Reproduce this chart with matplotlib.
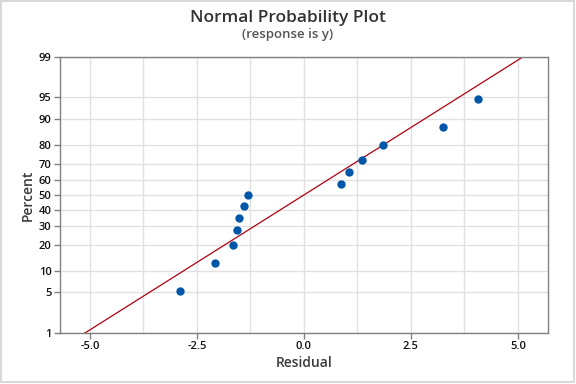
import matplotlib
matplotlib.use("Agg")
import matplotlib.pyplot as plt
from matplotlib.patches import Rectangle
from statistics import NormalDist
import numpy as np

# residuals, sorted
residuals = [-2.90, -2.07, -1.65, -1.56, -1.52, -1.39, -1.31,
             0.87, 1.06, 1.37, 1.84, 3.26, 4.06]
pct_ticks = [1, 5, 10, 20, 30, 40, 50, 60, 70, 80, 90, 95, 99]
x_ticks = [-5.0, -2.5, 0.0, 2.5, 5.0]
x_minor = [-3.75, -1.25, 1.25, 3.75]

nd = NormalDist()
res = np.array(sorted(residuals))
n = len(res)
# median ranks (Minitab style)
probs = (np.arange(1, n + 1) - 0.3) / (n + 0.4)
z_pts = np.array([nd.inv_cdf(p) for p in probs])

mu = res.mean()
sd = res.std(ddof=1)

plt.rcParams['font.family'] = ['Open Sans', 'DejaVu Sans']

fig = plt.figure(figsize=(5.76, 3.84), dpi=100)
ax = fig.add_axes([0.104, 0.133, 0.847, 0.719])

# fitted line
xl = np.array([-5.7, 5.7])
ax.plot(xl, (xl - mu) / sd, color='#b00012', lw=0.9, zorder=2)
ax.plot(res, z_pts, 'o', color='#0057a8', ms=5.0, zorder=3)

ax.set_xlim(-5.7, 5.7)
ax.set_ylim(nd.inv_cdf(0.01), nd.inv_cdf(0.99))
ax.set_yticks([nd.inv_cdf(p / 100) for p in pct_ticks])
ax.set_yticklabels([str(p) for p in pct_ticks])
ax.set_xticks(x_ticks)
ax.set_xticklabels([f'{v:.1f}' for v in x_ticks])
ax.set_xticks(x_minor, minor=True)

ax.grid(True, which='both', color='#e1e1e1', lw=1.0, zorder=0)
ax.set_axisbelow(True)
ax.tick_params(axis='both', which='major', length=4, width=1, color='#808080',
               labelsize=8, labelcolor='#111111', pad=2)
ax.tick_params(axis='x', which='minor', length=0)
for lbl in ax.get_xticklabels() + ax.get_yticklabels():
    lbl.set_fontweight('semibold')
for sp in ax.spines.values():
    sp.set_color('#808080')
    sp.set_linewidth(1.0)

ax.set_xlabel('Residual', fontsize=10, color='#3a3a3a', fontweight='semibold', labelpad=3)
ax.set_ylabel('Percent', fontsize=10, color='#3a3a3a', fontweight='semibold', labelpad=3)

fig.text(0.5, 0.954, 'Normal Probability Plot', ha='center', va='center',
         fontsize=12.5, color='#333333', fontweight='semibold')
fig.text(0.5, 0.910, '(response is y)', ha='center', va='center',
         fontsize=9.5, color='#555555', fontweight='semibold')

fig.patches.append(Rectangle((0.002, 0.004), 0.995, 0.994, transform=fig.transFigure,
                             fill=False, edgecolor='#d9d9d9', lw=1.5))

fig.savefig('out.png', dpi=100)
